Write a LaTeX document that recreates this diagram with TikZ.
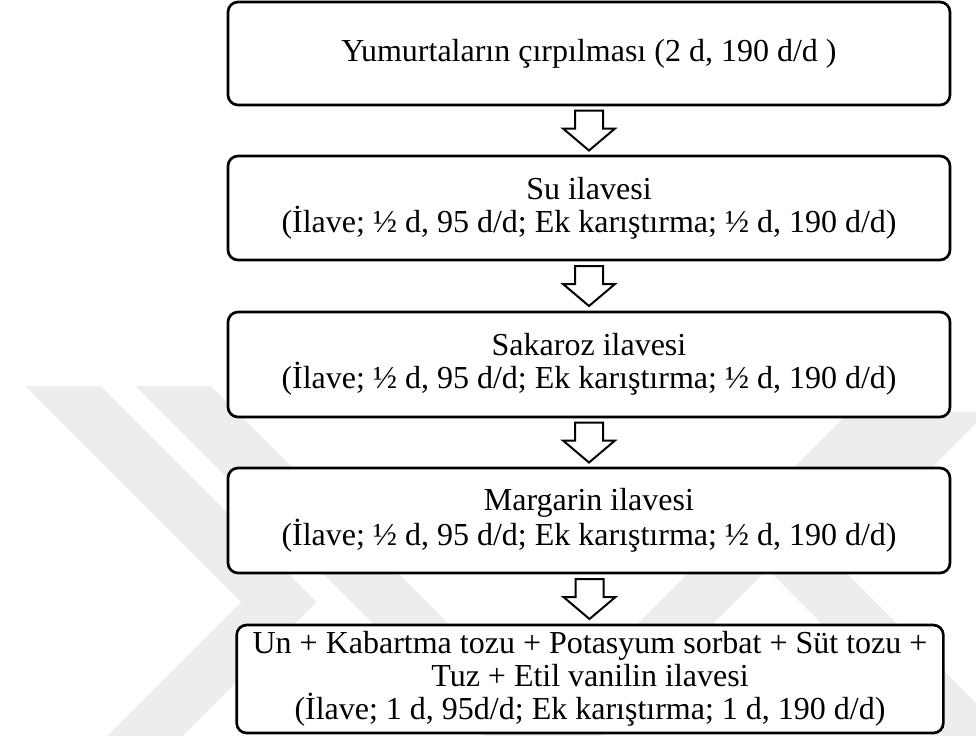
\documentclass[tikz,border=0pt]{standalone}
\usepackage{fontspec}
\setmainfont{Liberation Serif}
\usetikzlibrary{calc}
\begin{document}
\begin{tikzpicture}[x=0.75pt,y=-0.75pt,
  stepbox/.style={draw=black, fill=white, line width=2pt, rounded corners=7.5pt,
    align=center, inner sep=0pt, font=\fontsize{24}{24.75}\selectfont},
  flowarrow/.style={draw=black, fill=white, line width=1.5pt, line join=miter},
  wm/.style={draw=black!7, line width=40pt, line cap=butt, line join=miter}]
\useasboundingbox (0,0) rectangle (976,736);
% faint watermark
\begin{scope}
  \clip (0,386) rectangle (976,736);
  \draw[wm] (37,360) -- (279,602) -- (121,760);
  \draw[wm] (147,360) -- (543,756) -- (939,360);
\end{scope}
\begin{scope}
  \clip (0,412) rectangle (976,736);
  \draw[wm] (1002,360) -- (799,563) -- (995,760);
\end{scope}
% steps
\node[stepbox, minimum width=541.5pt, minimum height=77.25pt] (b1) at (589,53.5)
  {Yumurtaların çırpılması (2 d, 190 d/d )};
\node[stepbox, minimum width=541.5pt, minimum height=78pt] (b2) at (589,208)
  {Su ilavesi\\(İlave; ½ d, 95 d/d; Ek karıştırma; ½ d, 190 d/d)};
\node[stepbox, minimum width=541.5pt, minimum height=78.75pt] (b3) at (589,364.5)
  {Sakaroz ilavesi\\(İlave; ½ d, 95 d/d; Ek karıştırma; ½ d, 190 d/d)};
\node[stepbox, minimum width=541.5pt, minimum height=78.75pt] (b4) at (589,520.5)
  {Margarin ilavesi\\(İlave; ½ d, 95 d/d; Ek karıştırma; ½ d, 190 d/d)};
\node[stepbox, minimum width=530pt, minimum height=81pt] (b5) at (590,679)
  {Un + Kabartma tozu + Potasyum sorbat + Süt tozu +\\Tuz + Etil vanilin ilavesi\\(İlave; 1 d, 95d/d; Ek karıştırma; 1 d, 190 d/d)};
% block arrows between steps
\foreach \a/\b in {b1/b2,b2/b3,b3/b4,b4/b5}{
  \coordinate (m) at ($(\a.south)!0.5!(\b.north)$);
  \draw[flowarrow] ($(m)+(-14,-20)$) -- ($(m)+(14,-20)$) -- ($(m)+(14,-2)$)
    -- ($(m)+(26,-2)$) -- ($(m)+(0,20)$) -- ($(m)+(-26,-2)$)
    -- ($(m)+(-14,-2)$) -- cycle;
}
\end{tikzpicture}
\end{document}
